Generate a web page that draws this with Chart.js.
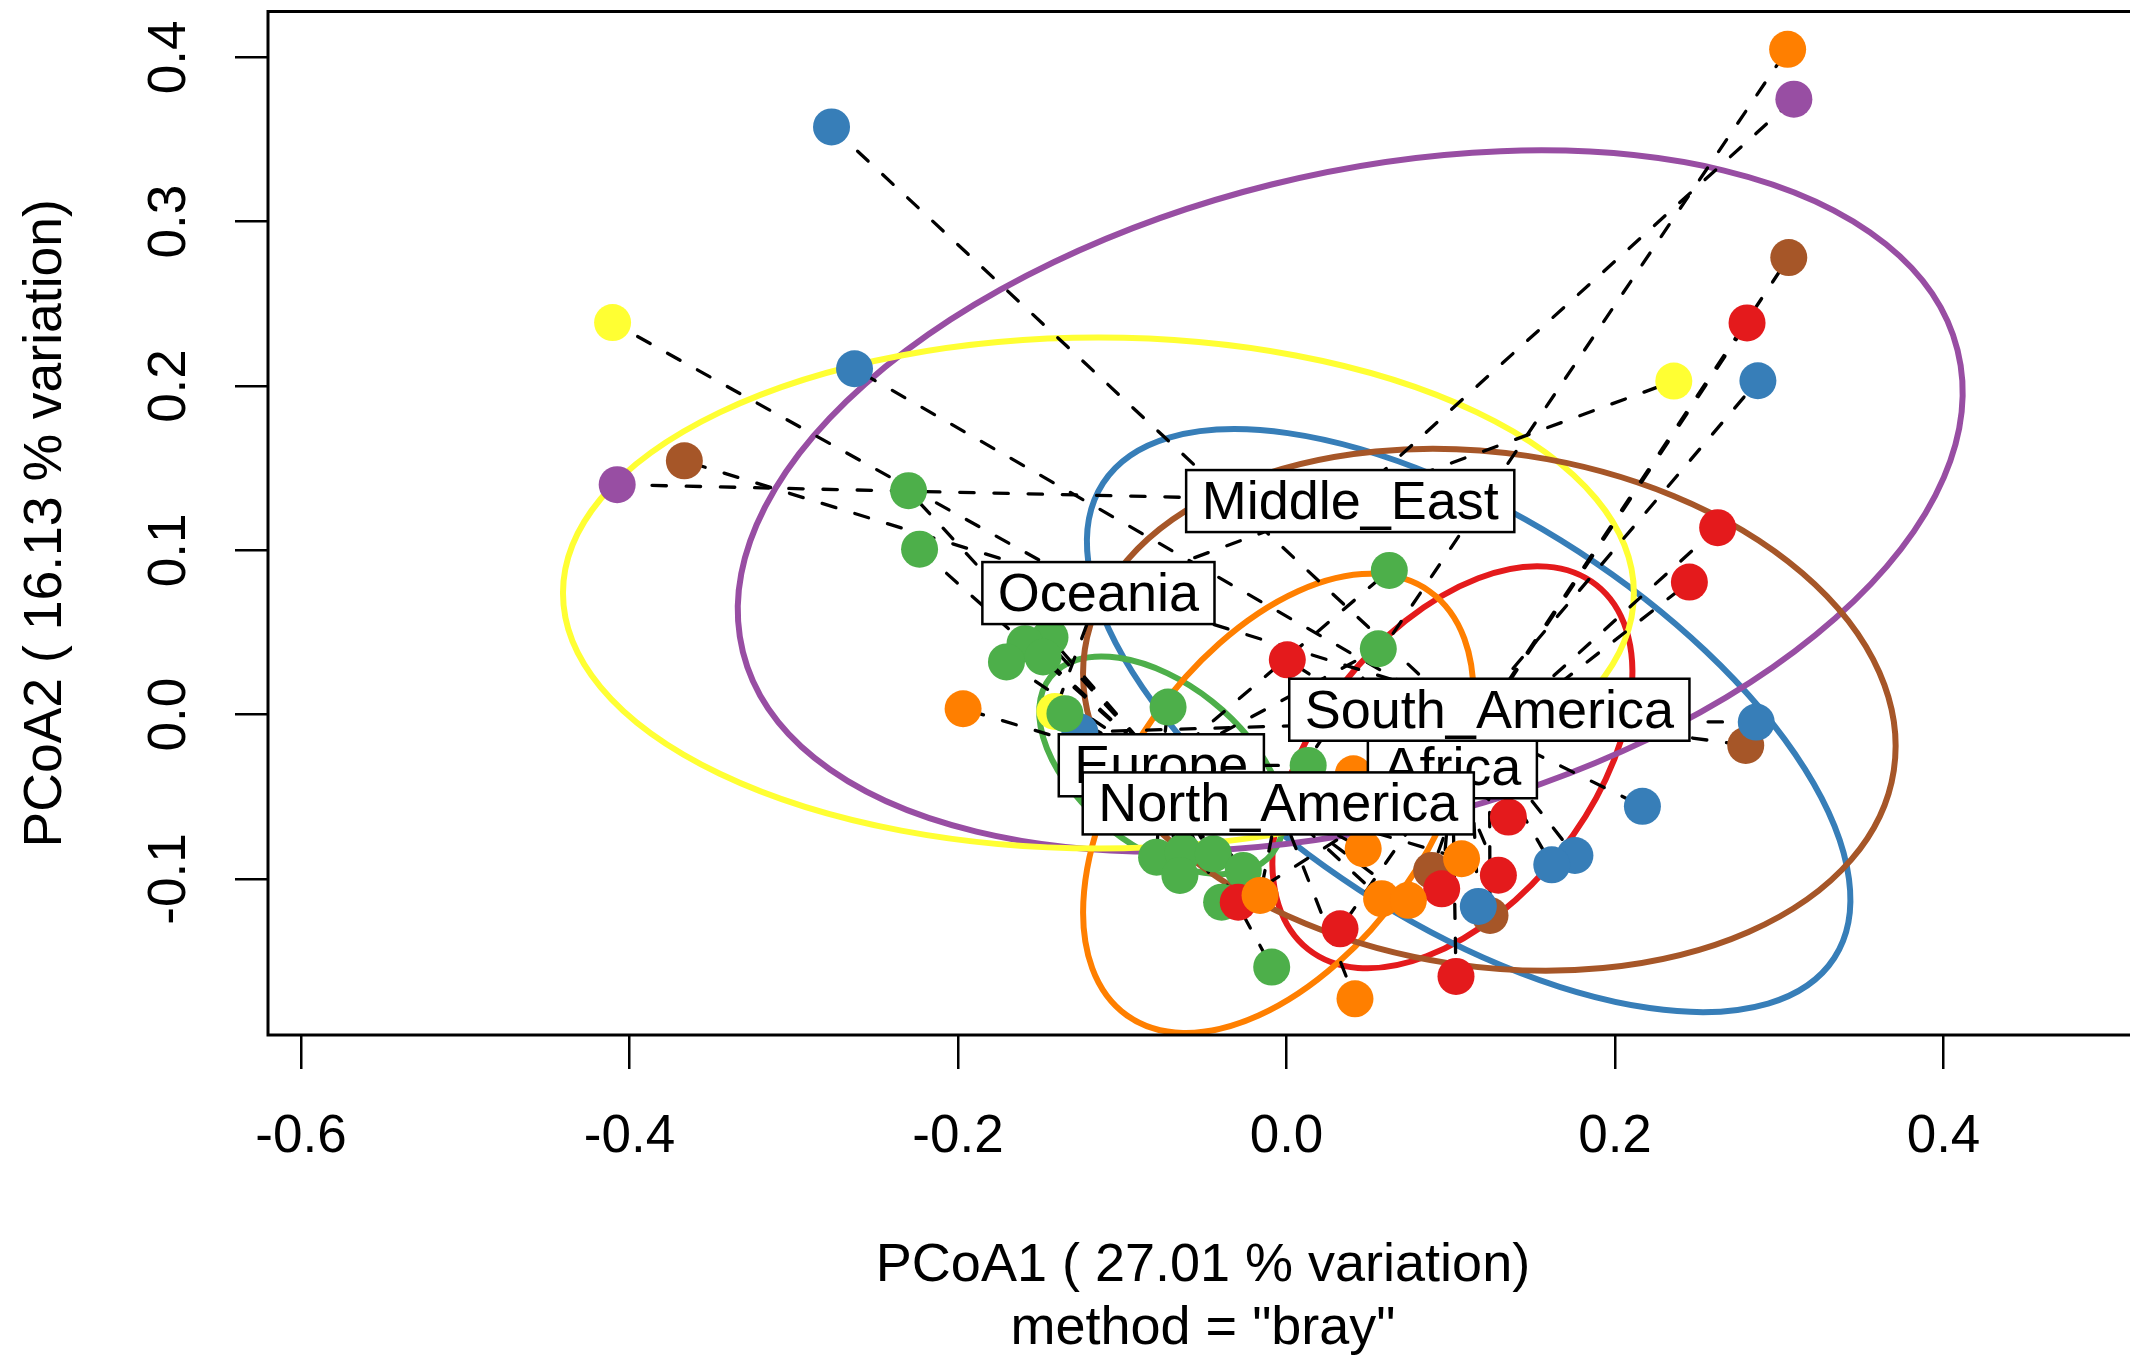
<!DOCTYPE html>
<html><head><meta charset="utf-8">
<script src="https://cdn.jsdelivr.net/npm/chart.js@4/dist/chart.umd.min.js"></script>
<style>
html,body{margin:0;padding:0;background:#fff;overflow:hidden;}
#wrap{width:2130px;height:1363px;overflow:hidden;position:relative;background:#fff;}
canvas{display:block;}
</style></head><body>
<div id="wrap"><canvas id="c" width="2160" height="1363" style="width:2160px;height:1363px"></canvas></div>
<script>
// ---- data ----
const groups = ["Africa","Asia","Europe","Middle_East","North_America","Oceania","South_America"];
const groupColors = ["#E41A1C","#377EB8","#4DAF4A","#984EA3","#FF7F00","#FFFF33","#A65628"];
const labelShown = [true,false,true,true,true,true,true];

const africaX = [0.2804, 0.2625, 0.2453, 0.0005, 0.1351, 0.1290, 0.0945, -0.0294, 0.0326, 0.1032];
const africaY = [0.2384, 0.1138, 0.0807, 0.0334, -0.0623, -0.0977, -0.1060, -0.1141, -0.1303, -0.1593];
const asiaX = [-0.2770, -0.2630, 0.2870, 0.2860, 0.2167, 0.1756, 0.1615, 0.1168, -0.1258];
const asiaY = [0.3577, 0.2105, 0.2032, -0.0045, -0.0558, -0.0857, -0.0914, -0.1167, -0.0106];
const europeX = [-0.2301, -0.2234, 0.0626, 0.0559, -0.0721, -0.1349, -0.1440, -0.1592, -0.1705, -0.1482, 0.0132, -0.0791, -0.0630, -0.0446, -0.0649, -0.0263, -0.0395, -0.0090];
const europeY = [0.1363, 0.1007, 0.0878, 0.0401, 0.0046, 0.0006, 0.0470, 0.0432, 0.0321, 0.0351, -0.0309, -0.0867, -0.0837, -0.0847, -0.0978, -0.0948, -0.1141, -0.1536];
const middleEastX = [-0.4075, 0.3089];
const middleEastY = [0.1400, 0.3746];
const northAmericaX = [0.3051, -0.1969, 0.0407, 0.0467, 0.1066, 0.0579, 0.0742, -0.0161, 0.0417];
const northAmericaY = [0.4049, 0.0036, -0.0360, -0.0816, -0.0877, -0.1120, -0.1130, -0.1100, -0.1729];
const oceaniaX = [-0.4103, 0.2358, -0.1410];
const oceaniaY = [0.2386, 0.2030, 0.0020];
const southAmericaX = [-0.3666, 0.3058, 0.2796, 0.1239, 0.0884];
const southAmericaY = [0.1545, 0.2782, -0.0187, -0.1222, -0.0948];

const centroidX = [0.1010, 0.1109, -0.0762, 0.0388, -0.0050, -0.1145, 0.1235];
const centroidY = [-0.0320, -0.0036, -0.0308, 0.1300, -0.0540, 0.0740, 0.0030];
const ellipseA = [0.1414, 0.2654, 0.0863, 0.3810, 0.1586, 0.3260, 0.2490];
const ellipseB = [0.0836, 0.1227, 0.0497, 0.1985, 0.0922, 0.1555, 0.1562];
const ellipseAngle = [51.6, -33.0, -38.4, 13.95, 54.5, 0.0, -8.5];

const xTicks = [-0.6, -0.4, -0.2, 0.0, 0.2, 0.4];
const yTicks = [-0.1, 0.0, 0.1, 0.2, 0.3, 0.4];
const xTitle = ["PCoA1 ( 27.01 % variation)", 'method = "bray"'];
const yTitle = "PCoA2 ( 16.13 % variation)";

// ---- build ----
const FONT = "Liberation Sans";
const pointsX = [africaX, asiaX, europeX, middleEastX, northAmericaX, oceaniaX, southAmericaX];
const pointsY = [africaY, asiaY, europeY, middleEastY, northAmericaY, oceaniaY, southAmericaY];
const pointOrder = [3, 5, 4, 1, 2, 7, 6];

const datasets = [];
groups.forEach((g, i) => {
  const pts = pointsX[i].map((x, j) => ({x: x, y: pointsY[i][j]}));
  const spider = [];
  pts.forEach(p => {
    spider.push({x: centroidX[i], y: centroidY[i]});
    spider.push({x: p.x, y: p.y});
    spider.push({x: p.x, y: null});
  });
  datasets.push({
    type: 'line', label: g + ' spider', data: spider,
    borderColor: '#000', borderWidth: 3.3, borderDash: [14.4, 19.8], borderCapStyle: 'round',
    pointRadius: 0, fill: false, spanGaps: false, tension: 0, order: 100
  });
  datasets.push({
    type: 'scatter', label: g, data: pts,
    backgroundColor: groupColors[i], borderWidth: 0, pointRadius: 18.5,
    order: pointOrder[i]
  });
});

const ellipsePlugin = {
  id: 'ellipses',
  beforeDatasetsDraw(chart) {
    const {ctx, chartArea: ca, scales: {x, y}} = chart;
    const sx = Math.abs(x.getPixelForValue(1) - x.getPixelForValue(0));
    const sy = Math.abs(y.getPixelForValue(0) - y.getPixelForValue(1));
    ctx.save();
    ctx.beginPath();
    ctx.rect(ca.left, ca.top, ca.right - ca.left, ca.bottom - ca.top);
    ctx.clip();
    groups.forEach((g, i) => {
      ctx.beginPath();
      ctx.ellipse(x.getPixelForValue(centroidX[i]), y.getPixelForValue(centroidY[i]),
        ellipseA[i] * sx, ellipseB[i] * sy, -ellipseAngle[i] * Math.PI / 180, 0, 2 * Math.PI);
      ctx.strokeStyle = groupColors[i];
      ctx.lineWidth = 6;
      ctx.stroke();
    });
    ctx.restore();
  }
};

const labelPlugin = {
  id: 'labels',
  afterDatasetsDraw(chart) {
    const {ctx, chartArea: ca, scales: {x, y}} = chart;
    ctx.save();
    ctx.font = '54px "' + FONT + '"';
    groups.forEach((g, i) => {
      if (!labelShown[i]) return;
      const px = x.getPixelForValue(centroidX[i]);
      const py = y.getPixelForValue(centroidY[i]);
      const tw = ctx.measureText(g).width;
      const w = tw + 31, h = 62;
      ctx.fillStyle = '#fff';
      ctx.fillRect(px - w / 2, py - h / 2, w, h);
      ctx.strokeStyle = '#000';
      ctx.lineWidth = 2.5;
      ctx.strokeRect(px - w / 2, py - h / 2, w, h);
      ctx.fillStyle = '#000';
      ctx.textAlign = 'center';
      ctx.textBaseline = 'alphabetic';
      ctx.fillText(g, px, py + 18);
    });
    // plot box
    ctx.strokeStyle = '#000';
    ctx.lineWidth = 3;
    ctx.strokeRect(ca.left, ca.top, ca.right - ca.left, ca.bottom - ca.top);
    ctx.restore();
  }
};

Chart.defaults.font.family = FONT;
Chart.defaults.color = '#000';

new Chart(document.getElementById('c'), {
  type: 'scatter',
  data: {datasets: datasets},
  options: {
    responsive: false,
    maintainAspectRatio: false,
    devicePixelRatio: 1,
    animation: false,
    events: [],
    layout: {autoPadding: false, padding: {top: 11.5, right: 22, bottom: 0, left: 0}},
    plugins: {legend: {display: false}, tooltip: {enabled: false}},
    scales: {
      x: {
        type: 'linear', position: 'bottom',
        min: -0.62009, max: 0.51842,
        afterBuildTicks: s => { s.ticks = xTicks.map(v => ({value: v})); },
        afterFit: s => { s.height = 328; s.paddingLeft = 0; s.paddingRight = 0; },
        grid: {display: true, drawOnChartArea: false, drawTicks: true, tickLength: 34, color: '#000', lineWidth: 2.5},
        border: {display: false},
        ticks: {autoSkip: false, maxRotation: 0, minRotation: 0, padding: 37, color: '#000',
          font: {size: 53, family: FONT}, callback: v => Number(v).toFixed(1)},
        title: {display: true, text: xTitle, color: '#000',
          font: {size: 54, family: FONT, lineHeight: 1.1667}, padding: {top: 0, bottom: 2}}
      },
      y: {
        type: 'linear', position: 'left',
        min: -0.19494, max: 0.42793,
        afterBuildTicks: s => { s.ticks = yTicks.map(v => ({value: v})); },
        afterFit: s => { s.width = 268; s.paddingTop = 0; s.paddingBottom = 0; },
        grid: {display: true, drawOnChartArea: false, drawTicks: true, tickLength: 33, color: '#000', lineWidth: 2.5},
        border: {display: false},
        ticks: {autoSkip: false, minRotation: 90, maxRotation: 90, crossAlign: 'center', padding: 19, color: '#000',
          font: {size: 53, family: FONT}, callback: v => Number(v).toFixed(1)},
        title: {display: true, text: yTitle, color: '#000',
          font: {size: 53.5, family: FONT, lineHeight: 1.1667}, padding: {top: 15.5, bottom: 0}}
      }
    }
  },
  plugins: [ellipsePlugin, labelPlugin]
});
</script>
</body></html>
